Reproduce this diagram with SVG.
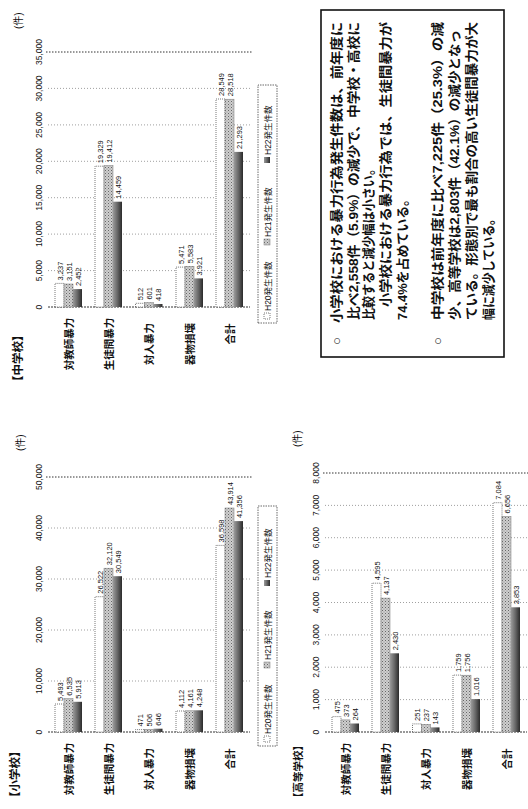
<svg xmlns="http://www.w3.org/2000/svg" width="528" height="809" viewBox="0 0 528 809">
<style>
text{font-family:"Liberation Sans","Noto Sans CJK JP",sans-serif;fill:#111}
.ttl{font-size:11.5px;font-weight:bold}
.unit{font-size:10px}
.tick{font-size:8.5px;text-anchor:middle}
.cat{font-size:10.5px;font-weight:bold;text-anchor:middle}
.val{font-size:7.5px}
.leg{font-size:8.5px}
.box{font-size:13px;font-weight:bold}
.grid{stroke:#888;stroke-width:0.8;stroke-dasharray:1 2}
.edge{stroke:#333;stroke-width:1;stroke-dasharray:1.5 1.5}
.base{stroke:#333;stroke-width:1;stroke-dasharray:2 1}
.h20{fill:#fff;stroke:#555;stroke-width:0.8;stroke-dasharray:1 1}
.h21{fill:url(#stip);stroke:#777;stroke-width:0.5}
.h22{fill:url(#dark)}
</style>
<defs>
<pattern id="stip" width="3" height="3" patternUnits="userSpaceOnUse">
<rect width="3" height="3" fill="#cfcfcf"/>
<rect x="0" y="0" width="1" height="1" fill="#666"/>
<rect x="1.5" y="1.5" width="1" height="1" fill="#888"/>
</pattern>
<linearGradient id="dark" x1="0" y1="0" x2="0" y2="1">
<stop offset="0" stop-color="#9a9a9a"/>
<stop offset="0.5" stop-color="#666"/>
<stop offset="1" stop-color="#2a2a2a"/>
</linearGradient>
</defs>
<rect width="528" height="809" fill="#fff"/>
<g transform="translate(0,809) rotate(-90)">

<!-- 小学校 -->
<g id="chart-elementary">
<text class="ttl" x="6" y="18.5">【小学校】</text>
<text class="unit" x="358" y="24">(件)</text>
<g id="axis-elementary">
<line class="grid" x1="128" y1="48" x2="128" y2="250"/>
<line class="grid" x1="179" y1="48" x2="179" y2="250"/>
<line class="grid" x1="230" y1="48" x2="230" y2="250"/>
<line class="grid" x1="281" y1="48" x2="281" y2="250"/>
<line class="edge" x1="332" y1="46" x2="332" y2="252"/>
<line class="base" x1="77" y1="48" x2="77" y2="250"/>
<text class="tick" x="77" y="41.5">0</text>
<text class="tick" x="128" y="41.5">10,000</text>
<text class="tick" x="179" y="41.5">20,000</text>
<text class="tick" x="230" y="41.5">30,000</text>
<text class="tick" x="281" y="41.5">40,000</text>
<text class="tick" x="332" y="41.5">50,000</text>
</g>
<g id="e-cat1"><text class="cat" x="40" y="72.5">対教師暴力</text>
<rect class="h20" x="77" y="55" width="28" height="9"/><rect class="h21" x="77" y="64" width="33.3" height="9"/><rect class="h22" x="77" y="73" width="30.2" height="9"/>
<text class="val" x="108" y="62.5">5,493</text><text class="val" x="113.3" y="71.5">6,535</text><text class="val" x="110.2" y="80.5">5,913</text></g>
<g id="e-cat2"><text class="cat" x="40" y="112.5">生徒間暴力</text>
<rect class="h20" x="77" y="95" width="135.3" height="9"/><rect class="h21" x="77" y="104" width="163.8" height="9"/><rect class="h22" x="77" y="113" width="155.8" height="9"/>
<text class="val" x="215.3" y="102.5">26,522</text><text class="val" x="243.8" y="111.5">32,120</text><text class="val" x="235.8" y="120.5">30,549</text></g>
<g id="e-cat3"><text class="cat" x="40" y="153">対人暴力</text>
<rect class="h20" x="77" y="135.5" width="2.4" height="9"/><rect class="h21" x="77" y="144.5" width="2.6" height="9"/><rect class="h22" x="77" y="153.5" width="3.3" height="9"/>
<text class="val" x="82.4" y="143">471</text><text class="val" x="82.6" y="152">506</text><text class="val" x="83.3" y="161">646</text></g>
<g id="e-cat4"><text class="cat" x="40" y="193.5">器物損壊</text>
<rect class="h20" x="77" y="176" width="21" height="9"/><rect class="h21" x="77" y="185" width="21.2" height="9"/><rect class="h22" x="77" y="194" width="21.7" height="9"/>
<text class="val" x="101" y="183.5">4,112</text><text class="val" x="101.2" y="192.5">4,161</text><text class="val" x="101.7" y="201.5">4,248</text></g>
<g id="e-cat5"><text class="cat" x="50" y="233.5">合計</text>
<rect class="h20" x="77" y="216" width="186.6" height="9"/><rect class="h21" x="77" y="225" width="224" height="9"/><rect class="h22" x="77" y="234" width="210.9" height="9"/>
<text class="val" x="266.6" y="223.5">36,598</text><text class="val" x="304" y="232.5">43,914</text><text class="val" x="290.9" y="241.5">41,356</text></g>
<g id="legend-elementary">
<rect x="63" y="258" width="240" height="19" fill="none" stroke="#444" stroke-width="0.8" stroke-dasharray="1.5 1"/>
<rect class="h20" x="67" y="264" width="6" height="6"/><text class="leg" x="75" y="270.5">H20発生件数</text>
<rect class="h21" x="141" y="264" width="6" height="6"/><text class="leg" x="149" y="270.5">H21発生件数</text>
<rect class="h22" x="223" y="264" width="6" height="6"/><text class="leg" x="231" y="270.5">H22発生件数</text>
</g>
</g>

<!-- 中学校 -->
<g id="chart-junior" transform="translate(425,0)">
<text class="ttl" x="-3" y="22">【中学校】</text>
<text class="unit" x="355" y="22">(件)</text>
<g id="axis-junior">
<line class="grid" x1="113.4" y1="48" x2="113.4" y2="250"/>
<line class="grid" x1="149.9" y1="48" x2="149.9" y2="250"/>
<line class="grid" x1="186.3" y1="48" x2="186.3" y2="250"/>
<line class="grid" x1="222.7" y1="48" x2="222.7" y2="250"/>
<line class="grid" x1="259.1" y1="48" x2="259.1" y2="250"/>
<line class="grid" x1="295.6" y1="48" x2="295.6" y2="250"/>
<line class="edge" x1="332" y1="46" x2="332" y2="252"/>
<line class="base" x1="77" y1="48" x2="77" y2="250"/>
<text class="tick" x="77" y="41.5">0</text>
<text class="tick" x="113.4" y="41.5">5,000</text>
<text class="tick" x="149.9" y="41.5">10,000</text>
<text class="tick" x="186.3" y="41.5">15,000</text>
<text class="tick" x="222.7" y="41.5">20,000</text>
<text class="tick" x="259.1" y="41.5">25,000</text>
<text class="tick" x="295.6" y="41.5">30,000</text>
<text class="tick" x="332" y="41.5">35,000</text>
</g>
<g id="j-cat1"><text class="cat" x="40" y="72.5">対教師暴力</text>
<rect class="h20" x="77" y="55" width="23.6" height="9"/><rect class="h21" x="77" y="64" width="23" height="9"/><rect class="h22" x="77" y="73" width="17.9" height="9"/>
<text class="val" x="103.6" y="62.5">3,237</text><text class="val" x="103" y="71.5">3,151</text><text class="val" x="97.9" y="80.5">2,452</text></g>
<g id="j-cat2"><text class="cat" x="40" y="112.5">生徒間暴力</text>
<rect class="h20" x="77" y="95" width="140.8" height="9"/><rect class="h21" x="77" y="104" width="141.4" height="9"/><rect class="h22" x="77" y="113" width="105.3" height="9"/>
<text class="val" x="220.8" y="102.5">19,329</text><text class="val" x="221.4" y="111.5">19,412</text><text class="val" x="185.3" y="120.5">14,459</text></g>
<g id="j-cat3"><text class="cat" x="40" y="153">対人暴力</text>
<rect class="h20" x="77" y="135.5" width="3.7" height="9"/><rect class="h21" x="77" y="144.5" width="4.4" height="9"/><rect class="h22" x="77" y="153.5" width="3" height="9"/>
<text class="val" x="83.7" y="143">512</text><text class="val" x="84.4" y="152">601</text><text class="val" x="83" y="161">418</text></g>
<g id="j-cat4"><text class="cat" x="40" y="193.5">器物損壊</text>
<rect class="h20" x="77" y="176" width="39.9" height="9"/><rect class="h21" x="77" y="185" width="40.7" height="9"/><rect class="h22" x="77" y="194" width="28.6" height="9"/>
<text class="val" x="119.9" y="183.5">5,471</text><text class="val" x="120.7" y="192.5">5,583</text><text class="val" x="108.6" y="201.5">3,921</text></g>
<g id="j-cat5"><text class="cat" x="50" y="233.5">合計</text>
<rect class="h20" x="77" y="216" width="208" height="9"/><rect class="h21" x="77" y="225" width="207.8" height="9"/><rect class="h22" x="77" y="234" width="155.1" height="9"/>
<text class="val" x="288" y="223.5">28,549</text><text class="val" x="287.8" y="232.5">28,518</text><text class="val" x="235.1" y="241.5">21,293</text></g>
<g id="legend-junior">
<rect x="61" y="258" width="238" height="19" fill="none" stroke="#444" stroke-width="0.8" stroke-dasharray="1.5 1"/>
<rect class="h20" x="65" y="264" width="6" height="6"/><text class="leg" x="73" y="270.5">H20発生件数</text>
<rect class="h21" x="139" y="264" width="6" height="6"/><text class="leg" x="147" y="270.5">H21発生件数</text>
<rect class="h22" x="221" y="264" width="6" height="6"/><text class="leg" x="229" y="270.5">H22発生件数</text>
</g>
</g>

<!-- 高等学校 -->
<g id="chart-high" transform="translate(0,277)">
<text class="ttl" x="6" y="24.5" style="font-size:10.5px">【高等学校】</text>
<text class="unit" x="362" y="24">(件)</text>
<g id="axis-high">
<line class="grid" x1="109.4" y1="48" x2="109.4" y2="250"/>
<line class="grid" x1="141.8" y1="48" x2="141.8" y2="250"/>
<line class="grid" x1="174.1" y1="48" x2="174.1" y2="250"/>
<line class="grid" x1="206.5" y1="48" x2="206.5" y2="250"/>
<line class="grid" x1="238.9" y1="48" x2="238.9" y2="250"/>
<line class="grid" x1="271.3" y1="48" x2="271.3" y2="250"/>
<line class="grid" x1="303.6" y1="48" x2="303.6" y2="250"/>
<line class="edge" x1="336" y1="46" x2="336" y2="252"/>
<line class="base" x1="77" y1="48" x2="77" y2="250"/>
<text class="tick" x="77" y="41.5">0</text>
<text class="tick" x="109.4" y="41.5">1,000</text>
<text class="tick" x="141.8" y="41.5">2,000</text>
<text class="tick" x="174.1" y="41.5">3,000</text>
<text class="tick" x="206.5" y="41.5">4,000</text>
<text class="tick" x="238.9" y="41.5">5,000</text>
<text class="tick" x="271.3" y="41.5">6,000</text>
<text class="tick" x="303.6" y="41.5">7,000</text>
<text class="tick" x="336" y="41.5">8,000</text>
</g>
<g id="h-cat1"><text class="cat" x="40" y="72.5">対教師暴力</text>
<rect class="h20" x="77" y="55" width="15.4" height="9"/><rect class="h21" x="77" y="64" width="12.1" height="9"/><rect class="h22" x="77" y="73" width="8.5" height="9"/>
<text class="val" x="95.4" y="62.5">475</text><text class="val" x="92.1" y="71.5">373</text><text class="val" x="88.5" y="80.5">264</text></g>
<g id="h-cat2"><text class="cat" x="40" y="112.5">生徒間暴力</text>
<rect class="h20" x="77" y="95" width="148.8" height="9"/><rect class="h21" x="77" y="104" width="133.9" height="9"/><rect class="h22" x="77" y="113" width="78.7" height="9"/>
<text class="val" x="228.8" y="102.5">4,595</text><text class="val" x="213.9" y="111.5">4,137</text><text class="val" x="158.7" y="120.5">2,430</text></g>
<g id="h-cat3"><text class="cat" x="40" y="153">対人暴力</text>
<rect class="h20" x="77" y="135.5" width="8.1" height="9"/><rect class="h21" x="77" y="144.5" width="7.7" height="9"/><rect class="h22" x="77" y="153.5" width="4.6" height="9"/>
<text class="val" x="88.1" y="143">251</text><text class="val" x="87.7" y="152">237</text><text class="val" x="84.6" y="161">143</text></g>
<g id="h-cat4"><text class="cat" x="40" y="193.5">器物損壊</text>
<rect class="h20" x="77" y="176" width="56.9" height="9"/><rect class="h21" x="77" y="185" width="56.8" height="9"/><rect class="h22" x="77" y="194" width="32.9" height="9"/>
<text class="val" x="136.9" y="183.5">1,759</text><text class="val" x="136.8" y="192.5">1,756</text><text class="val" x="112.9" y="201.5">1,016</text></g>
<g id="h-cat5"><text class="cat" x="50" y="233.5">合計</text>
<rect class="h20" x="77" y="216" width="229.3" height="9"/><rect class="h21" x="77" y="225" width="215.5" height="9"/><rect class="h22" x="77" y="234" width="124.7" height="9"/>
<text class="val" x="309.3" y="223.5">7,084</text><text class="val" x="295.5" y="232.5">6,656</text><text class="val" x="204.7" y="241.5">3,853</text></g>
</g>

<!-- 説明文 -->
<g id="textbox">
<rect x="452" y="321" width="347" height="183" fill="#fff" stroke="#111" stroke-width="1.6"/>
<text class="box" x="464" y="341">○</text>
<text class="box" x="486" y="341" textLength="301" lengthAdjust="spacingAndGlyphs">小学校における暴力行為発生件数は、前年度に</text>
<text class="box" x="489" y="358" textLength="298" lengthAdjust="spacingAndGlyphs">比べ2,558件（5.9%）の減少で、中学校・高校に</text>
<text class="box" x="489" y="373" textLength="157" lengthAdjust="spacingAndGlyphs">比較すると減少幅は小さい。</text>
<text class="box" x="502" y="390" textLength="285" lengthAdjust="spacingAndGlyphs">小学校における暴力行為では、生徒間暴力が</text>
<text class="box" x="489" y="407" textLength="127" lengthAdjust="spacingAndGlyphs">74.4%を占めている。</text>
<text class="box" x="464" y="442">○</text>
<text class="box" x="489" y="442" textLength="298" lengthAdjust="spacingAndGlyphs">中学校は前年度に比べ7,225件（25.3%）の減</text>
<text class="box" x="489" y="459" textLength="290" lengthAdjust="spacingAndGlyphs">少、高等学校は2,803件（42.1%）の減少となっ</text>
<text class="box" x="489" y="476" textLength="298" lengthAdjust="spacingAndGlyphs">ている。形態別で最も割合の高い生徒間暴力が大</text>
<text class="box" x="489" y="493" textLength="107" lengthAdjust="spacingAndGlyphs">幅に減少している。</text>
</g>
</g>
</svg>
